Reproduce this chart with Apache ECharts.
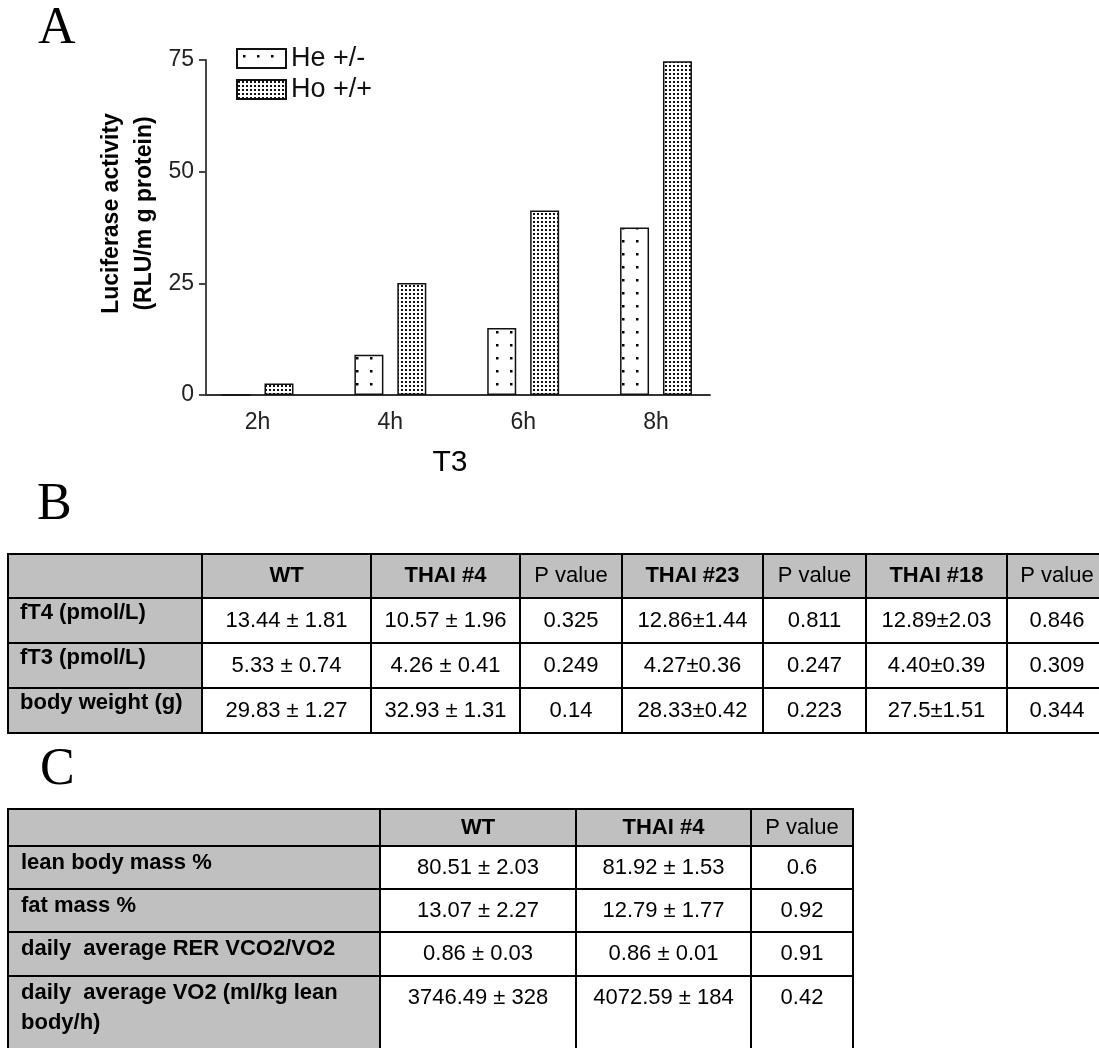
<!DOCTYPE html>
<html>
<head>
<meta charset="utf-8">
<script src="https://cdn.jsdelivr.net/npm/echarts@6.0.0/dist/echarts.min.js"></script>
<style>
html,body{margin:0;padding:0;background:#fff;}
#main{width:1099px;height:1048px;}
</style>
</head>
<body>
<div id="main"></div>
<script>
// ---------- Panel A data ----------
const times = [2, 4, 6, 8];
const categories = ['2h', '4h', '6h', '8h'];
const seriesNames = ['He +/-', 'Ho +/+'];
const heValues = [0, 9, 15, 37.5];
const hoValues = [2.6, 25.1, 41.3, 74.7];
const yTicks = [0, 25, 50, 75];
const xAxisTitle = 'T3';
const yAxisTitle = 'Luciferase activity\n(RLU/m g protein)';

// ---------- Panel B data ----------
const tableBHeader = ['', 'WT', 'THAI #4', 'P value', 'THAI #23', 'P value', 'THAI #18', 'P value'];
const tableBHeaderBold = [false, true, true, false, true, false, true, false];
const tableBRows = ['fT4 (pmol/L)', 'fT3 (pmol/L)', 'body weight (g)'];
const tableBWT = ['13.44 \u00b1 1.81', '5.33 \u00b1 0.74', '29.83 \u00b1 1.27'];
const tableBThai4 = ['10.57 \u00b1 1.96', '4.26 \u00b1 0.41', '32.93 \u00b1 1.31'];
const tableBP4 = ['0.325', '0.249', '0.14'];
const tableBThai23 = ['12.86\u00b11.44', '4.27\u00b10.36', '28.33\u00b10.42'];
const tableBP23 = ['0.811', '0.247', '0.223'];
const tableBThai18 = ['12.89\u00b12.03', '4.40\u00b10.39', '27.5\u00b11.51'];
const tableBP18 = ['0.846', '0.309', '0.344'];

// ---------- Panel C data ----------
const tableCHeader = ['', 'WT', 'THAI #4', 'P value'];
const tableCHeaderBold = [false, true, true, false];
const tableCRows = ['lean body mass %', 'fat mass %', 'daily  average RER VCO2/VO2', 'daily  average VO2 (ml/kg lean\nbody/h)'];
const tableCWT = ['80.51 \u00b1 2.03', '13.07 \u00b1 2.27', '0.86 \u00b1 0.03', '3746.49 \u00b1 328'];
const tableCThai4 = ['81.92 \u00b1 1.53', '12.79 \u00b1 1.77', '0.86 \u00b1 0.01', '4072.59 \u00b1 184'];
const tableCP = ['0.6', '0.92', '0.91', '0.42'];

// ---------- Layout (pixels) ----------
const layoutB = {
  cols: [8, 202, 371, 520, 622, 763, 866, 1007, 1107],
  rows: [554, 598, 643, 688, 733],
  fontSize: 22, labelDy: 15, valueDy: 23, labelX: 20, lineHeight: 28
};
const layoutC = {
  cols: [8, 380, 576, 751, 853],
  rows: [809, 846, 889, 932, 976, 1070],
  fontSize: 22, labelDy: 17, valueDy: 22, labelX: 21, lineHeight: 30
};
const FONT = 'Liberation Sans, Arial, sans-serif';
const GRAY = '#c0c0c0';

function makePattern(w, h, dx, dy, size, color) {
  const c = document.createElement('canvas');
  c.width = w; c.height = h;
  const ctx = c.getContext('2d');
  ctx.fillStyle = '#ffffff';
  ctx.fillRect(0, 0, w, h);
  ctx.fillStyle = color;
  ctx.fillRect(dx, dy, size, size);
  return c;
}
const hePattern = { image: makePattern(14, 13, 6, 6, 2.5, '#000'), repeat: 'repeat' };
const hoPattern = { image: makePattern(4, 4, 1, 1, 2, '#111'), repeat: 'repeat' };

function buildTable(layout, header, headerBold, rowLabels, columns) {
  const els = [];
  const nR = rowLabels.length + 1;
  const nC = header.length;
  for (let r = 0; r < nR; r++) {
    for (let c = 0; c < nC; c++) {
      const x0 = layout.cols[c], x1 = layout.cols[c + 1];
      const y0 = layout.rows[r], y1 = layout.rows[r + 1];
      els.push({
        type: 'rect', silent: true,
        shape: { x: x0, y: y0, width: x1 - x0, height: y1 - y0 },
        style: { fill: (r === 0 || c === 0) ? GRAY : '#ffffff', stroke: '#000', lineWidth: 2 }
      });
      let text = null, bold = false, align = 'center', tx = (x0 + x1) / 2, ty;
      if (r === 0) {
        text = header[c]; bold = headerBold[c]; ty = (y0 + y1) / 2;
      } else if (c === 0) {
        text = rowLabels[r - 1]; bold = true; align = 'left';
        tx = x0 + layout.labelX - 8; ty = y0 + layout.labelDy;
      } else {
        text = columns[c - 1][r - 1]; ty = y0 + layout.valueDy;
      }
      if (text) {
        els.push({
          type: 'text', silent: true, z: 10,
          style: {
            text: text, x: tx, y: (r === 0) ? ty : ty - layout.lineHeight / 2,
            align: align, verticalAlign: (r === 0) ? 'middle' : 'top',
            fontFamily: FONT, fontSize: layout.fontSize,
            fontWeight: bold ? 'bold' : 'normal',
            lineHeight: layout.lineHeight,
            fill: '#000'
          }
        });
      }
    }
  }
  return els;
}

const panelLetters = [
  { text: 'A', x: 38, y: 29 },
  { text: 'B', x: 37, y: 505 },
  { text: 'C', x: 40, y: 770 }
];

const graphics = [].concat(
  panelLetters.map(p => ({
    type: 'text', silent: true,
    style: { text: p.text, x: p.x, y: p.y, verticalAlign: 'middle', fontFamily: 'Liberation Serif, Times New Roman, serif', fontSize: 52, fill: '#000' }
  })),
  buildTable(layoutB, tableBHeader, tableBHeaderBold, tableBRows,
    [tableBWT, tableBThai4, tableBP4, tableBThai23, tableBP23, tableBThai18, tableBP18]),
  buildTable(layoutC, tableCHeader, tableCHeaderBold, tableCRows,
    [tableCWT, tableCThai4, tableCP])
);

const chart = echarts.init(document.getElementById('main'));
const option = {
  animation: false,
  backgroundColor: '#ffffff',
  textStyle: { fontFamily: FONT },
  grid: { left: 206, top: 60, width: 504, height: 335, containLabel: false },
  legend: {
    orient: 'vertical', left: 236, top: 45, padding: 0,
    itemWidth: 49, itemHeight: 19, itemGap: 4,
    icon: 'rect',
    textStyle: { fontSize: 27, color: '#111', fontFamily: FONT },
    data: seriesNames
  },
  xAxis: {
    type: 'value', min: 1.224, max: 8.813,
    name: xAxisTitle, nameLocation: 'middle', nameGap: 53,
    nameTextStyle: { fontSize: 30, color: '#000', fontFamily: FONT, padding: [0, 16, 0, 0] },
    axisLine: { show: true, onZero: false, lineStyle: { color: '#333', width: 1.8 } },
    axisTick: { show: false },
    splitLine: { show: false },
    axisLabel: {
      customValues: times, margin: 16, fontSize: 23, color: '#222',
      formatter: v => categories[times.indexOf(v)]
    }
  },
  yAxis: {
    type: 'value', min: yTicks[0], max: yTicks[yTicks.length - 1], interval: 25,
    name: yAxisTitle, nameLocation: 'middle', nameGap: 45, nameRotate: 90,
    nameTextStyle: { fontSize: 23, fontWeight: 'bold', color: '#000', lineHeight: 33, fontFamily: FONT, padding: [0, 0, 0, 28] },
    axisLine: { show: true, lineStyle: { color: '#333', width: 1.8 } },
    axisTick: { show: true, length: 7, lineStyle: { color: '#333', width: 1.8 } },
    splitLine: { show: false },
    axisLabel: { fontSize: 23, color: '#222', margin: 12 }
  },
  series: [
    {
      name: seriesNames[0], type: 'bar', barWidth: 29, barGap: '48%',
      data: times.map((t, i) => [t, heValues[i]]),
      itemStyle: { color: hePattern, borderColor: '#111', borderWidth: 1.5 }
    },
    {
      name: seriesNames[1], type: 'bar', barWidth: 29, barGap: '48%',
      data: times.map((t, i) => [t, hoValues[i]]),
      itemStyle: { color: hoPattern, borderColor: '#111', borderWidth: 1.5 }
    }
  ],
  graphic: graphics
};
chart.setOption(option);
</script>
</body>
</html>
